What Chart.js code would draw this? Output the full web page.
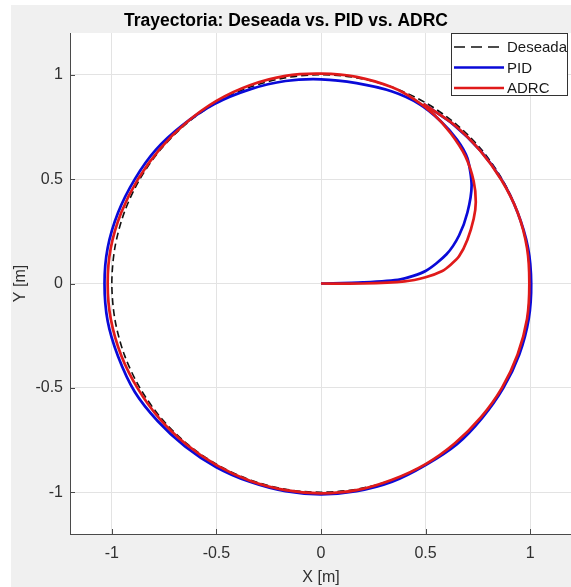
<!DOCTYPE html>
<html>
<head>
<meta charset="utf-8">
<script src="https://cdn.jsdelivr.net/npm/chart.js@4.4.1/dist/chart.umd.min.js"></script>
<style>
  html, body { margin: 0; padding: 0; background: #fff; overflow: hidden; }
  #wrap { width: 574px; height: 587px; }
</style>
</head>
<body>
<div id="wrap"><canvas id="traj" width="574" height="587"></canvas></div>
<script>
// axis ticks
const tickValues = [-1, -0.5, 0, 0.5, 1];
const seriesNames = ['Deseada', 'PID', 'ADRC'];

// desired trajectory (unit circle)
const desiredX = [1, 0.985, 0.940, 0.866, 0.766, 0.643, 0.5, 0.342, 0.174, 0, -0.174, -0.342, -0.5, -0.643, -0.766, -0.866, -0.940, -0.985, -1,
  -0.985, -0.940, -0.866, -0.766, -0.643, -0.5, -0.342, -0.174, 0, 0.174, 0.342, 0.5, 0.643, 0.766, 0.866, 0.940, 0.985, 1];
const desiredY = [0, 0.174, 0.342, 0.5, 0.643, 0.766, 0.866, 0.940, 0.985, 1, 0.985, 0.940, 0.866, 0.766, 0.643, 0.5, 0.342, 0.174, 0,
  -0.174, -0.342, -0.5, -0.643, -0.766, -0.866, -0.940, -0.985, -1, -0.985, -0.940, -0.866, -0.766, -0.643, -0.5, -0.342, -0.174, 0];

// PID response
const pidX = [0, 0.2, 0.38, 0.5, 0.6, 0.66, 0.70, 0.72, 0.70, 0.65, 0.57, 0.47, 0.34, 0.17, 0.0, -0.17, -0.34, -0.51, -0.66, -0.79, -0.89, -0.97, -1.02, -1.035,
  -1.02, -0.97, -0.89, -0.78, -0.65, -0.50, -0.34, -0.17, 0.0, 0.17, 0.34, 0.50, 0.65, 0.77, 0.872, 0.948, 0.993, 1.005, 0.99, 0.94, 0.865, 0.762, 0.635, 0.49];
const pidY = [0, 0.005, 0.02, 0.06, 0.14, 0.23, 0.34, 0.47, 0.60, 0.69, 0.78, 0.86, 0.92, 0.96, 0.978, 0.97, 0.93, 0.86, 0.76, 0.64, 0.50, 0.34, 0.17, 0.0,
  -0.18, -0.35, -0.52, -0.66, -0.78, -0.88, -0.95, -0.995, -1.01, -0.995, -0.95, -0.87, -0.77, -0.645, -0.5, -0.34, -0.17, 0.0, 0.17, 0.34, 0.495, 0.636, 0.76, 0.86];

// ADRC response
const adrcX = [0, 0.2, 0.4, 0.5, 0.58, 0.62, 0.66, 0.70, 0.73, 0.74, 0.73, 0.69, 0.62, 0.54, 0.45, 0.34, 0.17, 0.0, -0.17, -0.34, -0.5, -0.645, -0.77, -0.875, -0.955, -1.005, -1.02,
  -1.005, -0.955, -0.875, -0.77, -0.645, -0.5, -0.34, -0.17, 0, 0.17, 0.34, 0.5, 0.64, 0.765, 0.865, 0.94, 0.985, 0.996, 0.985, 0.94, 0.862, 0.76, 0.635, 0.49];
const adrcY = [0, 0.0, 0.01, 0.03, 0.06, 0.09, 0.13, 0.21, 0.31, 0.39, 0.49, 0.61, 0.72, 0.81, 0.88, 0.94, 0.99, 1.005, 0.995, 0.95, 0.875, 0.77, 0.645, 0.5, 0.34, 0.17, 0.0,
  -0.17, -0.345, -0.505, -0.65, -0.77, -0.87, -0.945, -0.99, -1.005, -0.99, -0.94, -0.865, -0.765, -0.64, -0.5, -0.34, -0.17, 0.0, 0.17, 0.34, 0.497, 0.638, 0.762, 0.86];

const toPoints = (xs, ys) => xs.map((x, i) => ({ x: x, y: ys[i] }));

const figureBg = {
  id: 'figureBg',
  beforeDraw(chart) {
    const ctx = chart.ctx, a = chart.chartArea;
    ctx.save();
    ctx.fillStyle = '#ffffff';
    ctx.fillRect(0, 0, chart.width, chart.height);
    ctx.fillStyle = '#f0f0f0';
    ctx.fillRect(11, 5, chart.width - 11, chart.height - 5);
    ctx.fillStyle = '#ffffff';
    ctx.fillRect(a.left, a.top, a.right - a.left, a.bottom - a.top);
    ctx.restore();
  },
  beforeDatasetsDraw(chart) {
    // inward tick marks
    const ctx = chart.ctx, a = chart.chartArea;
    const xs = chart.scales.x, ys = chart.scales.y;
    ctx.save();
    ctx.strokeStyle = '#4a4a4a';
    ctx.lineWidth = 1;
    ctx.beginPath();
    tickValues.forEach(v => {
      const px = Math.round(xs.getPixelForValue(v)) + 0.5;
      ctx.moveTo(px, a.bottom);
      ctx.lineTo(px, a.bottom - 5);
      const py = Math.round(ys.getPixelForValue(v)) + 0.5;
      ctx.moveTo(a.left, py);
      ctx.lineTo(a.left + 5, py);
    });
    ctx.stroke();
    ctx.restore();
  },
  afterDraw(chart) {
    // legend box inside axes, top right
    const ctx = chart.ctx, a = chart.chartArea;
    const w = 117, h = 63;
    const bx = a.right - 4 - w, by = a.top;
    ctx.save();
    ctx.fillStyle = '#ffffff';
    ctx.fillRect(bx, by, w, h);
    ctx.strokeStyle = '#333333';
    ctx.lineWidth = 1;
    ctx.strokeRect(bx + 0.5, by + 0.5, w - 1, h - 1);
    ctx.font = '15px "Liberation Sans", Arial, sans-serif';
    ctx.textBaseline = 'middle';
    ctx.fillStyle = '#1a1a1a';
    chart.data.datasets.forEach((ds, i) => {
      const y = by + 14 + i * 20.5;
      ctx.beginPath();
      ctx.strokeStyle = ds.borderColor;
      ctx.lineWidth = ds.borderWidth;
      ctx.setLineDash(ds.borderDash && ds.borderDash.length ? [11, 6] : []);
      ctx.moveTo(bx + 3, y);
      ctx.lineTo(bx + 53, y);
      ctx.stroke();
      ctx.setLineDash([]);
      ctx.fillText(ds.label, bx + 56, y + 1);
    });
    ctx.restore();
  }
};

new Chart(document.getElementById('traj'), {
  type: 'scatter',
  data: {
    datasets: [
      { label: seriesNames[0], data: toPoints(desiredX, desiredY), showLine: true, borderColor: '#111111', borderWidth: 1.6, borderDash: [7, 4], pointRadius: 0, tension: 0.3, order: 3 },
      { label: seriesNames[1], data: toPoints(pidX, pidY), showLine: true, borderColor: '#0a0ad8', borderWidth: 2.7, pointRadius: 0, tension: 0.25, order: 2 },
      { label: seriesNames[2], data: toPoints(adrcX, adrcY), showLine: true, borderColor: '#e01a1a', borderWidth: 2.7, pointRadius: 0, tension: 0.25, order: 1 }
    ]
  },
  options: {
    responsive: false,
    animation: false,
    devicePixelRatio: 1,
    layout: { padding: { left: 0, right: 2, top: 0, bottom: 0 } },
    plugins: {
      legend: { display: false },
      tooltip: { enabled: false },
      title: {
        display: true,
        text: 'Trayectoria: Deseada vs. PID vs. ADRC',
        color: '#000000',
        font: { family: '"Liberation Sans", Arial, sans-serif', size: 17.5, weight: 'bold', lineHeight: 1.2 },
        padding: { top: 11, bottom: 1 }
      }
    },
    scales: {
      x: {
        type: 'linear',
        min: -1.2, max: 1.2,
        afterBuildTicks: s => { s.ticks = tickValues.map(v => ({ value: v })); },
        afterFit: s => { s.height = 53; },
        grid: { color: '#e3e3e3', drawTicks: false },
        border: { display: true, color: '#4a4a4a', width: 1 },
        ticks: { color: '#303030', padding: 10, font: { family: '"Liberation Sans", Arial, sans-serif', size: 16 }, callback: v => String(v) },
        title: { display: true, text: 'X [m]', color: '#303030', padding: { top: 0, bottom: 0 }, font: { family: '"Liberation Sans", Arial, sans-serif', size: 16 } }
      },
      y: {
        type: 'linear',
        min: -1.2, max: 1.2,
        afterBuildTicks: s => { s.ticks = tickValues.map(v => ({ value: v })); },
        afterFit: s => { s.width = 70; },
        grid: { color: '#e3e3e3', drawTicks: false },
        border: { display: true, color: '#4a4a4a', width: 1 },
        ticks: { color: '#303030', padding: 7, font: { family: '"Liberation Sans", Arial, sans-serif', size: 16 }, callback: v => String(v) },
        title: { display: true, text: 'Y [m]', color: '#303030', padding: { top: 11, bottom: 0 }, font: { family: '"Liberation Sans", Arial, sans-serif', size: 16 } }
      }
    }
  },
  plugins: [figureBg]
});
</script>
</body>
</html>
